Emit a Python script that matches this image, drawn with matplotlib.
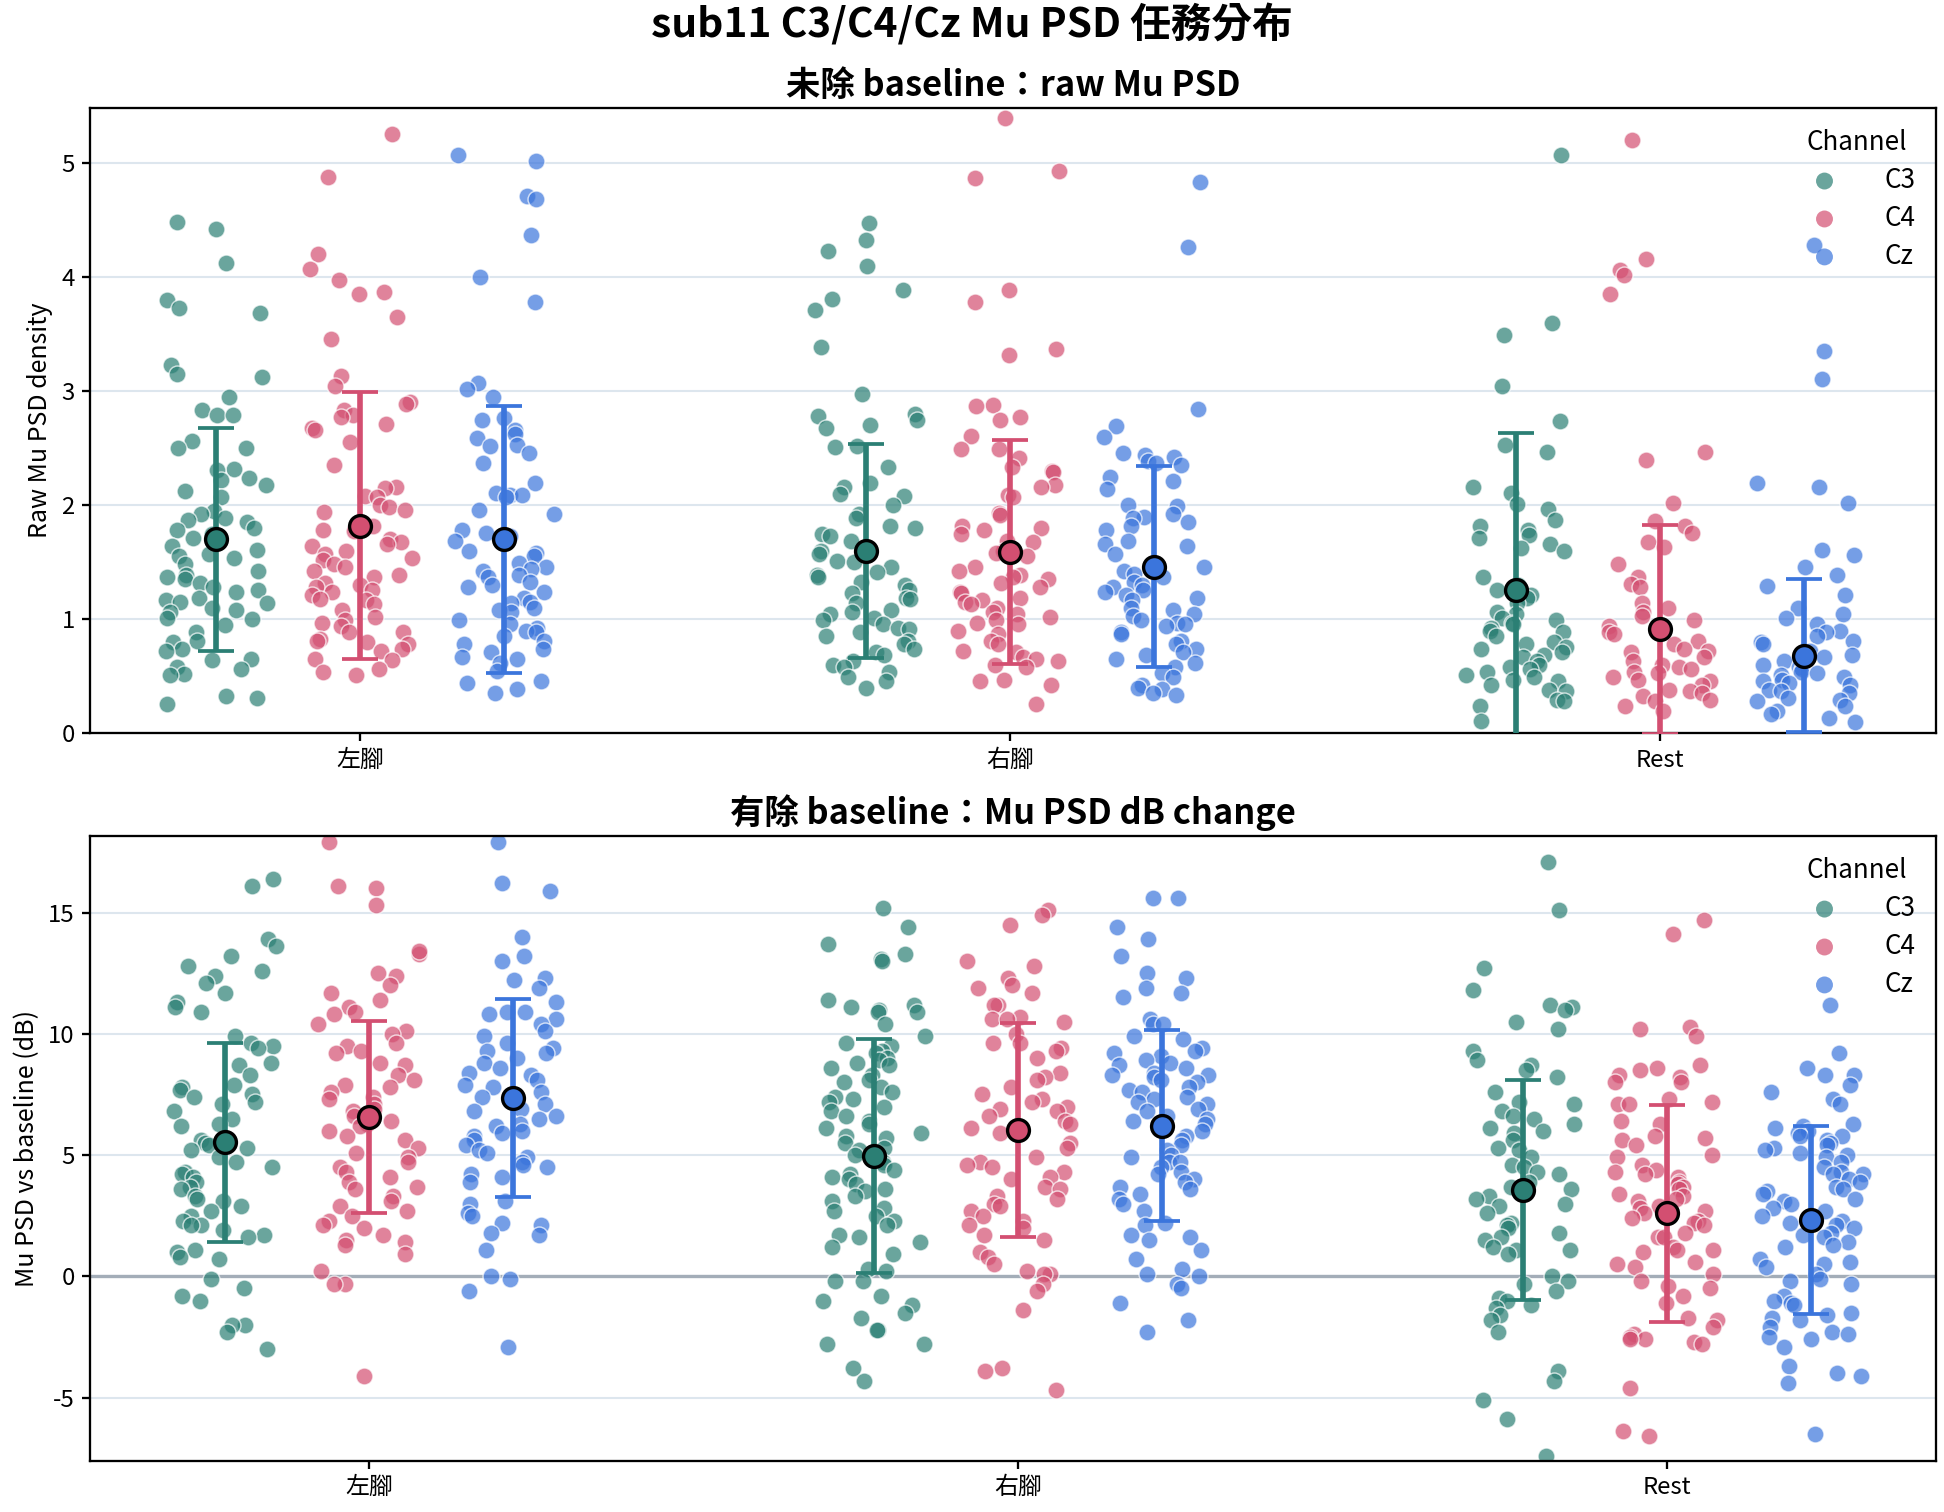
import numpy as np
import matplotlib
matplotlib.use("Agg")
import matplotlib.pyplot as plt

plt.rcParams['font.family'] = ['Noto Sans CJK TC', 'DejaVu Sans']
plt.rcParams['axes.unicode_minus'] = False

# データ
tasks = ["左腳", "右腳", "Rest"]
channels = ["C3", "C4", "Cz"]
point_colors = ["#2b7f74", "#d34f71", "#3b75dc"]

# 未除 baseline : raw Mu PSD
raw_left_c3 = [4.48, 4.42, 4.12, 3.80, 3.73, 3.68, 3.23, 3.15, 3.12, 2.95, 2.83, 2.79, 2.79, 2.56, 2.50, 2.50,
               2.32, 2.31, 2.24, 2.22, 2.18, 2.12, 2.07, 1.95, 1.92, 1.89, 1.87, 1.85, 1.80, 1.78, 1.75, 1.71,
               1.64, 1.61, 1.57, 1.55, 1.54, 1.48, 1.42, 1.39, 1.37, 1.35, 1.32, 1.28, 1.26, 1.24, 1.19, 1.17,
               1.15, 1.14, 1.10, 1.08, 1.06, 1.01, 1.00, 0.95, 0.89, 0.81, 0.80, 0.74, 0.72, 0.65, 0.64, 0.58,
               0.56, 0.52, 0.51, 0.33, 0.31, 0.26]
raw_left_c4 = [5.25, 4.88, 4.20, 4.07, 3.97, 3.87, 3.85, 3.65, 3.46, 3.13, 3.04, 2.90, 2.89, 2.83, 2.79, 2.77,
               2.71, 2.68, 2.66, 2.55, 2.35, 2.16, 2.15, 2.08, 2.07, 2.00, 1.98, 1.96, 1.94, 1.82, 1.78, 1.77,
               1.70, 1.68, 1.66, 1.64, 1.60, 1.57, 1.54, 1.52, 1.48, 1.46, 1.42, 1.39, 1.37, 1.32, 1.30, 1.28,
               1.26, 1.24, 1.21, 1.18, 1.17, 1.13, 1.08, 1.02, 0.99, 0.97, 0.94, 0.89, 0.89, 0.83, 0.81, 0.80,
               0.78, 0.74, 0.72, 0.65, 0.64, 0.56, 0.54, 0.51]
raw_left_cz = [5.07, 5.02, 4.71, 4.68, 4.37, 4.00, 3.78, 3.07, 3.02, 2.95, 2.76, 2.75, 2.66, 2.62, 2.59, 2.53,
               2.52, 2.46, 2.37, 2.19, 2.11, 2.09, 2.09, 2.07, 1.96, 1.92, 1.78, 1.76, 1.73, 1.69, 1.60, 1.58,
               1.55, 1.49, 1.46, 1.44, 1.42, 1.39, 1.37, 1.33, 1.30, 1.28, 1.24, 1.19, 1.15, 1.14, 1.10, 1.08,
               1.06, 0.99, 0.96, 0.92, 0.90, 0.89, 0.85, 0.81, 0.78, 0.74, 0.71, 0.67, 0.65, 0.62, 0.55, 0.46,
               0.44, 0.39, 0.35]
raw_right_c3 = [4.47, 4.32, 4.23, 4.10, 3.89, 3.81, 3.71, 3.39, 2.97, 2.80, 2.78, 2.75, 2.70, 2.68, 2.52, 2.51,
                2.33, 2.19, 2.16, 2.10, 2.08, 2.00, 1.92, 1.89, 1.82, 1.80, 1.75, 1.73, 1.69, 1.62, 1.60, 1.57,
                1.51, 1.50, 1.46, 1.41, 1.39, 1.37, 1.33, 1.30, 1.26, 1.23, 1.19, 1.18, 1.14, 1.08, 1.06, 1.05,
                1.01, 0.99, 0.96, 0.92, 0.91, 0.89, 0.85, 0.81, 0.78, 0.74, 0.71, 0.69, 0.63, 0.60, 0.58, 0.54,
                0.49, 0.46, 0.40]
raw_right_c4 = [5.39, 4.93, 4.87, 3.89, 3.78, 3.37, 3.32, 2.88, 2.87, 2.77, 2.75, 2.61, 2.49, 2.49, 2.41, 2.33,
                2.30, 2.29, 2.18, 2.16, 2.09, 2.07, 1.93, 1.91, 1.82, 1.80, 1.78, 1.75, 1.69, 1.68, 1.60, 1.58,
                1.55, 1.46, 1.42, 1.39, 1.37, 1.35, 1.32, 1.28, 1.24, 1.23, 1.19, 1.17, 1.15, 1.13, 1.10, 1.06,
                1.05, 1.02, 0.99, 0.97, 0.96, 0.90, 0.87, 0.81, 0.78, 0.72, 0.71, 0.67, 0.65, 0.63, 0.60, 0.58,
                0.47, 0.46, 0.42, 0.26]
raw_right_cz = [4.83, 4.26, 2.84, 2.69, 2.60, 2.46, 2.44, 2.42, 2.39, 2.37, 2.35, 2.25, 2.21, 2.14, 2.00, 1.99,
                1.92, 1.90, 1.89, 1.85, 1.82, 1.78, 1.69, 1.66, 1.64, 1.57, 1.46, 1.42, 1.40, 1.37, 1.33, 1.30,
                1.28, 1.26, 1.24, 1.21, 1.19, 1.17, 1.10, 1.08, 1.05, 1.03, 0.99, 0.97, 0.96, 0.94, 0.89, 0.87,
                0.81, 0.78, 0.74, 0.71, 0.69, 0.65, 0.62, 0.58, 0.53, 0.49, 0.42, 0.40, 0.39, 0.35, 0.34]
raw_rest_c3 = [5.07, 3.60, 3.49, 3.04, 2.74, 2.53, 2.47, 2.16, 2.11, 2.01, 1.97, 1.87, 1.82, 1.78, 1.74, 1.71,
               1.66, 1.62, 1.60, 1.37, 1.30, 1.26, 1.21, 1.19, 1.14, 1.06, 1.05, 1.01, 0.99, 0.97, 0.96, 0.92,
               0.90, 0.89, 0.85, 0.80, 0.78, 0.76, 0.74, 0.71, 0.69, 0.67, 0.63, 0.60, 0.58, 0.56, 0.54, 0.51,
               0.49, 0.47, 0.46, 0.42, 0.38, 0.37, 0.29, 0.28, 0.24, 0.11]
raw_rest_c4 = [5.20, 4.16, 4.06, 4.02, 3.85, 2.47, 2.40, 2.02, 1.86, 1.82, 1.76, 1.68, 1.63, 1.48, 1.37, 1.31,
               1.28, 1.14, 1.10, 1.06, 1.03, 0.99, 0.94, 0.89, 0.87, 0.81, 0.78, 0.74, 0.72, 0.71, 0.67, 0.63,
               0.60, 0.58, 0.56, 0.54, 0.53, 0.49, 0.47, 0.46, 0.42, 0.38, 0.37, 0.35, 0.33, 0.29, 0.28, 0.24,
               0.20]
raw_rest_cz = [4.28, 3.35, 3.11, 2.19, 2.16, 2.02, 1.61, 1.56, 1.46, 1.39, 1.29, 1.21, 1.10, 1.05, 1.01, 0.96,
               0.90, 0.89, 0.85, 0.81, 0.80, 0.78, 0.72, 0.69, 0.67, 0.63, 0.60, 0.58, 0.56, 0.54, 0.53, 0.51,
               0.49, 0.47, 0.46, 0.44, 0.42, 0.38, 0.37, 0.35, 0.31, 0.29, 0.28, 0.24, 0.20, 0.17, 0.13, 0.10]

raw_mean = [[1.70, 1.82, 1.70], [1.60, 1.59, 1.46], [1.26, 0.91, 0.68]]
raw_sd = [[0.98, 1.17, 1.17], [0.94, 0.98, 0.88], [1.37, 0.92, 0.67]]

# 有除 baseline : Mu PSD dB change
db_left_c3 = [16.4, 16.1, 13.9, 13.6, 13.2, 12.8, 12.6, 12.4, 12.1, 11.7, 11.3, 11.1, 10.9, 9.9, 9.6, 9.5,
              9.4, 8.8, 8.7, 8.3, 7.9, 7.8, 7.7, 7.5, 7.4, 7.2, 7.1, 6.8, 6.5, 6.3, 6.2, 5.6, 5.5, 5.4, 5.3,
              5.2, 4.9, 4.7, 4.5, 4.3, 4.2, 4.1, 3.9, 3.7, 3.6, 3.3, 3.2, 3.1, 2.9, 2.7, 2.5, 2.3, 2.1, 2.1,
              1.9, 1.7, 1.6, 1.1, 1.0, 0.8, 0.7, -0.1, -0.5, -0.8, -1.0, -2.0, -2.0, -2.3, -3.0]
db_left_c4 = [17.9, 16.1, 16.0, 15.3, 13.3, 13.4, 12.5, 12.4, 12.0, 11.7, 11.4, 11.1, 10.9, 10.8, 10.4, 10.1,
              10.0, 9.6, 9.5, 9.3, 9.2, 8.8, 8.7, 8.3, 8.1, 7.9, 7.8, 7.6, 7.4, 7.3, 7.1, 6.9, 6.8, 6.6, 6.4,
              6.3, 6.2, 6.0, 5.8, 5.6, 5.3, 5.1, 4.9, 4.7, 4.5, 4.3, 4.1, 3.9, 3.7, 3.6, 3.3, 3.1, 2.9, 2.7,
              2.5, 2.3, 2.1, 2.0, 1.7, 1.5, 1.4, 1.3, 0.9, 0.2, -0.3, -0.3, -4.1]
db_left_cz = [17.9, 16.2, 15.9, 14.0, 13.2, 13.0, 12.3, 12.2, 11.9, 11.3, 10.9, 10.9, 10.8, 10.6, 10.4, 10.1,
              9.9, 9.6, 9.4, 9.3, 9.2, 9.0, 8.8, 8.6, 8.4, 8.3, 8.1, 7.9, 7.8, 7.6, 7.4, 7.3, 7.1, 6.9, 6.8,
              6.6, 6.5, 6.3, 6.2, 6.0, 5.9, 5.8, 5.6, 5.4, 5.2, 5.1, 4.9, 4.7, 4.6, 4.5, 4.2, 4.1, 3.9, 3.1,
              3.0, 2.6, 2.5, 2.2, 2.1, 1.8, 1.7, 1.1, 0.0, -0.1, -0.6, -2.9]
db_right_c3 = [15.2, 14.4, 13.7, 13.3, 13.1, 13.0, 11.4, 11.2, 11.1, 11.0, 10.9, 10.9, 10.4, 9.9, 9.6, 9.5,
               9.3, 9.2, 9.0, 8.9, 8.8, 8.7, 8.6, 8.3, 8.1, 8.0, 7.8, 7.6, 7.4, 7.3, 7.2, 7.0, 6.8, 6.6, 6.4,
               6.3, 6.1, 5.9, 5.8, 5.7, 5.5, 5.3, 5.2, 5.0, 4.9, 4.7, 4.6, 4.4, 4.2, 4.1, 4.0, 3.8, 3.6, 3.5,
               3.3, 3.1, 2.8, 2.7, 2.5, 2.3, 2.1, 1.7, 1.6, 1.4, 1.2, 0.9, 0.3, 0.2, -0.2, -0.2, -0.8, -1.0,
               -1.2, -1.5, -1.7, -2.2, -2.2, -2.8, -2.8, -3.8, -4.3]
db_right_c4 = [15.1, 14.9, 14.5, 13.0, 12.8, 12.3, 11.9, 11.7, 12.0, 11.2, 11.2, 10.7, 10.6, 10.6, 10.5, 10.0,
               9.6, 9.6, 9.4, 9.3, 9.0, 8.4, 8.2, 8.1, 7.8, 7.5, 7.3, 7.2, 7.0, 6.9, 6.8, 6.6, 6.4, 6.3, 6.1,
               5.9, 5.5, 5.3, 4.9, 4.7, 4.6, 4.5, 4.3, 4.1, 4.0, 3.7, 3.6, 3.3, 3.2, 3.0, 2.9, 2.7, 2.5, 2.3,
               2.1, 2.0, 1.7, 1.5, 1.0, 0.8, 0.5, 0.2, 0.1, 0.1, -0.3, -0.6, -1.4, -3.8, -3.9, -4.7]
db_right_cz = [15.6, 15.6, 14.4, 13.9, 13.2, 12.5, 12.3, 11.9, 11.7, 11.5, 10.6, 10.4, 10.4, 9.9, 9.8, 9.4,
               9.3, 9.2, 9.1, 8.9, 8.8, 8.7, 8.6, 8.4, 8.3, 8.3, 8.2, 8.1, 8.0, 7.8, 7.7, 7.6, 7.4, 7.3, 7.2,
               7.1, 6.9, 6.8, 6.6, 6.5, 6.4, 6.3, 6.0, 5.8, 5.6, 5.4, 5.2, 5.0, 4.9, 4.7, 4.7, 4.5, 4.3, 4.2,
               4.0, 3.9, 3.7, 3.6, 3.4, 3.2, 3.0, 2.7, 2.2, 2.1, 1.7, 1.6, 1.5, 1.1, 0.7, 0.3, 0.1, 0.0, -0.3,
               -0.5, -1.1, -1.8, -2.3]
db_rest_c3 = [17.1, 15.1, 12.7, 11.8, 11.2, 11.1, 11.0, 10.5, 10.2, 9.3, 8.9, 8.7, 8.5, 8.2, 7.6, 7.2, 7.1,
              6.8, 6.6, 6.5, 6.3, 6.1, 6.0, 5.9, 5.6, 5.3, 5.2, 4.9, 4.6, 4.5, 4.3, 4.2, 3.9, 3.7, 3.6, 3.3,
              3.2, 3.0, 2.9, 2.6, 2.2, 2.1, 2.0, 1.8, 1.6, 1.5, 1.2, 1.1, 1.1, 0.9, 0.0, -0.2, -0.3, -0.6,
              -0.9, -1.0, -1.2, -1.3, -1.6, -1.8, -2.3, -3.9, -4.3, -5.1, -5.9, -7.4]
db_rest_c4 = [14.7, 14.1, 10.3, 10.2, 9.9, 8.7, 8.6, 8.5, 8.3, 8.2, 8.0, 8.0, 7.3, 7.2, 7.1, 7.1, 6.4, 6.3,
              5.8, 5.7, 5.6, 5.4, 5.0, 4.9, 4.6, 4.4, 4.3, 4.2, 4.1, 3.9, 3.8, 3.7, 3.6, 3.4, 3.3, 3.2, 3.1,
              2.9, 2.8, 2.7, 2.6, 2.4, 2.3, 2.2, 2.1, 1.8, 1.6, 1.6, 1.2, 1.1, 1.1, 1.0, 0.6, 0.5, 0.4, 0.1,
              -0.2, -0.4, -0.5, -0.8, -1.1, -1.7, -1.8, -2.1, -2.4, -2.5, -2.6, -2.6, -2.7, -2.8, -4.6,
              -6.4, -6.6]
db_rest_cz = [11.2, 9.2, 8.6, 8.3, 8.3, 7.9, 7.6, 7.3, 7.1, 6.3, 6.2, 6.1, 6.0, 5.9, 5.8, 5.8, 5.6, 5.5, 5.4,
              5.3, 5.2, 5.1, 5.0, 4.9, 4.7, 4.5, 4.3, 4.2, 4.2, 4.0, 3.9, 3.7, 3.6, 3.5, 3.4, 3.2, 3.1, 3.0,
              2.8, 2.7, 2.5, 2.3, 2.2, 2.1, 2.0, 1.8, 1.7, 1.6, 1.4, 1.3, 1.2, 0.7, 0.6, 0.5, 0.4, 0.1, -0.1,
              -0.2, -0.3, -0.8, -1.0, -1.1, -1.2, -1.5, -1.6, -1.7, -1.8, -2.1, -2.3, -2.4, -2.5, -2.6, -2.9,
              -3.7, -4.0, -4.1, -4.4, -6.5]

db_mean = [[5.53, 6.58, 7.37], [4.96, 6.03, 6.20], [3.57, 2.60, 2.31]]
db_sd = [[4.10, 3.95, 4.08], [4.84, 4.43, 3.94], [4.54, 4.48, 3.87]]

raw_data = [[raw_left_c3, raw_left_c4, raw_left_cz],
            [raw_right_c3, raw_right_c4, raw_right_cz],
            [raw_rest_c3, raw_rest_c4, raw_rest_cz]]
db_data = [[db_left_c3, db_left_c4, db_left_cz],
           [db_right_c3, db_right_c4, db_right_cz],
           [db_rest_c3, db_rest_c4, db_rest_cz]]

# 描画
fig = plt.figure(figsize=(12.96, 10.08), dpi=150)
ax1 = fig.add_axes([0.0465, 0.515, 0.9495, 0.4135])
ax2 = fig.add_axes([0.0465, 0.034, 0.9495, 0.413])

dodge = 0.222
jit = 0.08
rng = np.random.default_rng(11)  # x方向のジッターだけに使う


def draw_panel(ax, data, means, sds, ylim, xlim):
    for i in range(len(tasks)):
        for j in range(len(channels)):
            vals = np.array(data[i][j])
            offs = rng.uniform(-jit, jit, len(vals))
            xc = i + (j - 1) * dodge
            ax.scatter(xc + offs, vals, s=66, color=point_colors[j], alpha=0.7,
                       edgecolor="white", linewidth=0.7, zorder=2,
                       label=channels[j] if i == 0 else None)
            ax.errorbar(xc, means[i][j], yerr=sds[i][j], fmt="none", ecolor=point_colors[j],
                        elinewidth=2.7, capsize=8.5, capthick=1.8, zorder=3)
            ax.plot(xc, means[i][j], "o", ms=10.5, color=point_colors[j], mec="black",
                    mew=1.6, zorder=4)
    ax.set_xlim(*xlim)
    ax.set_ylim(*ylim)
    ax.set_xticks(range(len(tasks)))
    ax.set_xticklabels(tasks)
    ax.grid(axis="y", color="#dde6ee", linewidth=1.0, zorder=0)
    ax.set_axisbelow(True)
    for sp in ax.spines.values():
        sp.set_linewidth(1.1)
        sp.set_color("black")
    ax.tick_params(labelsize=11.5, length=4, width=1.1)
    leg = ax.legend(title="Channel", loc="upper right", frameon=False, fontsize=12.5,
                    title_fontsize=12.5, handletextpad=1.3, borderaxespad=0.4,
                    labelspacing=0.42, markerscale=1.0)
    for h in leg.legend_handles:
        h.set_edgecolor("none")


draw_panel(ax1, raw_data, raw_mean, raw_sd, (0, 5.48), (-0.415, 2.425))
ax1.set_ylabel("Raw Mu PSD density", fontsize=12)
ax1.set_title("未除 baseline：raw Mu PSD", fontsize=16.5, fontweight="bold", pad=6)

draw_panel(ax2, db_data, db_mean, db_sd, (-7.6, 18.15), (-0.43, 2.415))
ax2.axhline(0, color="#a3adb8", linewidth=1.6, zorder=1)
ax2.set_yticks([-5, 0, 5, 10, 15])
ax2.set_ylabel("Mu PSD vs baseline (dB)", fontsize=12)
ax2.set_title("有除 baseline：Mu PSD dB change", fontsize=16.5, fontweight="bold", pad=6)

fig.suptitle("sub11 C3/C4/Cz Mu PSD 任務分布", fontsize=19.5, fontweight="bold", y=0.997)

plt.savefig("out.png", dpi=150)
